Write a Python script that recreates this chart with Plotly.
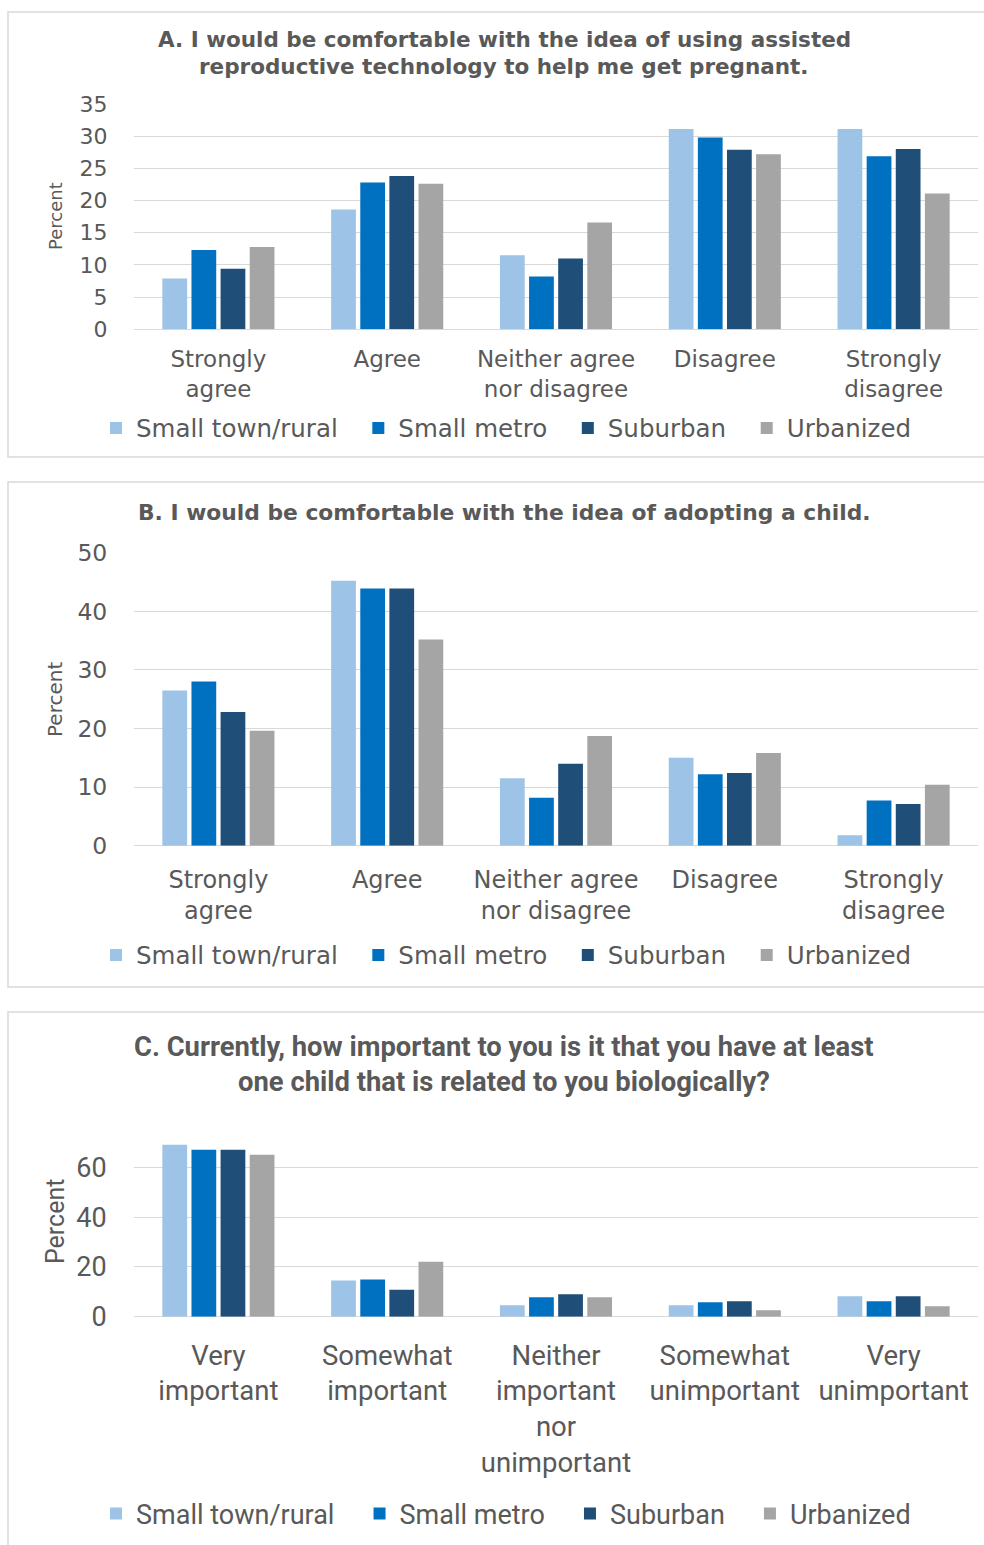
import plotly.graph_objects as go

# ---- data -------------------------------------------------------------
series_names = ["Small town/rural", "Small metro", "Suburban", "Urbanized"]
series_colors = ["#9DC3E6", "#0070C0", "#1F4E79", "#A5A5A5"]

agree_categories = ["Strongly agree", "Agree", "Neither agree nor disagree",
                    "Disagree", "Strongly disagree"]
agree_ticktext = ["Strongly<br>agree", "Agree", "Neither agree<br>nor disagree",
                  "Disagree", "Strongly<br>disagree"]

importance_categories = ["Very important", "Somewhat important",
                         "Neither important nor unimportant",
                         "Somewhat unimportant", "Very unimportant"]
importance_ticktext = ["Very<br>important", "Somewhat<br>important",
                       "Neither<br>important<br>nor<br>unimportant",
                       "Somewhat<br>unimportant", "Very<br>unimportant"]

# A. assisted reproductive technology
art_rural = [7.9, 18.6, 11.5, 31.1, 31.1]
art_small_metro = [12.3, 22.8, 8.2, 29.8, 26.9]
art_suburban = [9.4, 23.8, 11.0, 27.9, 28.0]
art_urbanized = [12.8, 22.6, 16.6, 27.2, 21.1]

# B. adopting a child
adopt_rural = [26.5, 45.2, 11.5, 15.0, 1.8]
adopt_small_metro = [28.0, 43.9, 8.2, 12.2, 7.7]
adopt_suburban = [22.8, 43.9, 14.0, 12.4, 7.1]
adopt_urbanized = [19.6, 35.2, 18.7, 15.8, 10.4]

# C. importance of a biological child
bio_rural = [69.1, 14.5, 4.6, 4.6, 8.2]
bio_small_metro = [67.1, 14.9, 7.8, 5.8, 6.2]
bio_suburban = [67.1, 10.8, 9.0, 6.2, 8.2]
bio_urbanized = [65.1, 22.1, 7.8, 2.6, 4.2]

title_a = ["A. I would be comfortable with the idea of using assisted",
           "reproductive technology to help me get pregnant."]
title_b = ["B. I would be comfortable with the idea of adopting a child."]
title_c = ["C. Currently, how important to you is it that you have at least",
           "one child that is related to you biologically?"]

# ---- page geometry (pixels) -------------------------------------------
W, H = 984, 1545
TXT = "#595959"
GRID = "#D9D9D9"
WIDE = "DejaVu Sans"
NARROW = "Roboto"
NBSP = "\u00a0"


def py(y):
    return 1 - y / H


def px(x):
    return x / W


fig = go.Figure()

panels = [
    dict(cats=agree_categories, values=[art_rural, art_small_metro, art_suburban, art_urbanized],
         xa="x", ya="y", legend="legend", pad=2),
    dict(cats=agree_categories, values=[adopt_rural, adopt_small_metro, adopt_suburban, adopt_urbanized],
         xa="x2", ya="y2", legend="legend2", pad=2),
    dict(cats=importance_categories, values=[bio_rural, bio_small_metro, bio_suburban, bio_urbanized],
         xa="x3", ya="y3", legend="legend3", pad=3),
]

for p in panels:
    for name, color, vals in zip(series_names, series_colors, p["values"]):
        fig.add_trace(go.Bar(
            x=p["cats"], y=vals, name=name + NBSP * p["pad"],
            marker=dict(color=color, line=dict(width=0)),
            xaxis=p["xa"], yaxis=p["ya"], legend=p["legend"],
            hovertemplate="%{x}: %{y}%<extra>" + name + "</extra>",
        ))

x_domain = [px(134), px(978)]


def xaxis(anchor, cats, ticktext, font_family, size, standoff):
    return dict(domain=x_domain, anchor=anchor, type="category", categoryorder="array",
                categoryarray=cats, tickvals=cats, ticktext=ticktext,
                tickfont=dict(family=font_family, size=size, color=TXT),
                showgrid=False, zeroline=False, showline=False, automargin=False,
                ticks="outside", ticklen=0, ticklabelstandoff=standoff,
                fixedrange=True)


def yaxis(anchor, top, bottom, rng, dtick, font_family, size):
    return dict(domain=[py(bottom), py(top)], anchor=anchor, range=rng, dtick=dtick,
                tickfont=dict(family=font_family, size=size, color=TXT),
                showgrid=True, gridcolor=GRID, gridwidth=1,
                zeroline=True, zerolinecolor=GRID, zerolinewidth=1,
                showline=False, automargin=False,
                ticks="outside", ticklen=0, ticklabelstandoff=21,
                fixedrange=True)


fig.update_layout(
    width=W, height=H,
    margin=dict(l=0, r=0, t=0, b=0, pad=0, autoexpand=False),
    paper_bgcolor="white", plot_bgcolor="white",
    barmode="group", bargap=0.31, bargroupgap=0.15,
    xaxis=xaxis("y", agree_categories, agree_ticktext, WIDE, 23, 9),
    yaxis=yaxis("x", 104, 329.3, [0, 35], 5, WIDE, 22),
    xaxis2=xaxis("y2", agree_categories, agree_ticktext, WIDE, 24, 12),
    yaxis2=yaxis("x2", 552.7, 845.7, [0, 50], 10, WIDE, 23.5),
    xaxis3=xaxis("y3", importance_categories, importance_ticktext, NARROW, 27.5, 14),
    yaxis3=yaxis("x3", 1142.5, 1316.7, [0, 70], 20, NARROW, 27),
)

legend_common = dict(orientation="h", xanchor="left", yanchor="middle",
                     bgcolor="rgba(0,0,0,0)", itemclick=False, itemdoubleclick=False,
                     tracegroupgap=0)
fig.update_layout(
    legend=dict(legend_common, x=px(96), y=py(428),
                font=dict(family=WIDE, size=24.5, color=TXT)),
    legend2=dict(legend_common, x=px(96), y=py(955),
                 font=dict(family=WIDE, size=24.5, color=TXT)),
    legend3=dict(legend_common, x=px(96), y=py(1514),
                 font=dict(family=NARROW, size=27, color=TXT)),
)

# panel frames
shapes = []
for top, bottom in [(12, 457), (482, 987), (1012, 1600)]:
    shapes.append(dict(type="rect", xref="paper", yref="paper",
                       x0=px(8), x1=px(1000), y0=py(bottom), y1=py(top),
                       line=dict(color=GRID, width=1.5), fillcolor="rgba(0,0,0,0)",
                       layer="below"))
fig.update_layout(shapes=shapes)

annotations = []


def title_lines(lines, ys, family, size):
    for text, y in zip(lines, ys):
        annotations.append(dict(text="<b>" + text + "</b>", x=px(504), y=py(y),
                                xref="paper", yref="paper", xanchor="center",
                                yanchor="middle", showarrow=False,
                                font=dict(family=family, size=size, color=TXT)))


title_lines(title_a, [39, 66], WIDE, 21.5)
title_lines(title_b, [512], WIDE, 21.8)
title_lines(title_c, [1047, 1082], NARROW, 27.4)

for yc, family, size in [(216, WIDE, 18), (700, WIDE, 20), (1222, NARROW, 25)]:
    annotations.append(dict(text="Percent", x=px(55), y=py(yc), xref="paper", yref="paper",
                            xanchor="center", yanchor="middle", textangle=-90,
                            showarrow=False, font=dict(family=family, size=size, color=TXT)))

fig.update_layout(annotations=annotations)

fig.write_html("out.html",
               post_script="document.body.style.margin='0';"
                           "document.body.style.overflow='hidden';")
